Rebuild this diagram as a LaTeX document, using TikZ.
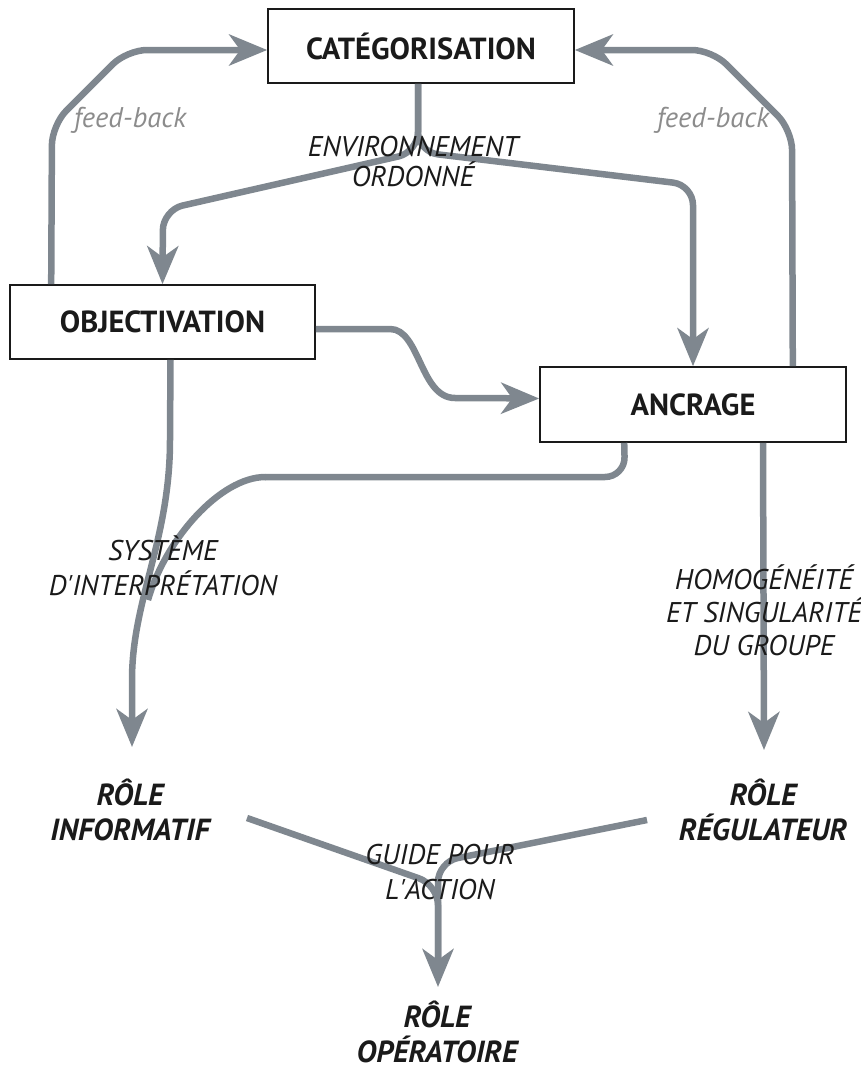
\documentclass[tikz,border=0pt]{standalone}
\usepackage{fontspec}
\setmainfont{PT Sans}
\usetikzlibrary{arrows.meta,calc}
\definecolor{arr}{HTML}{7F878F}
\definecolor{ink}{HTML}{1A1A1A}
\definecolor{fb}{HTML}{8C8C8C}
\newcommand{\apos}{\textquotesingle}
\begin{document}
\begin{tikzpicture}[x=1pt,y=-1pt,
 box/.style={draw=ink,line width=1.6pt,minimum width=306pt,minimum height=74pt,inner sep=0pt,font=\fontsize{30.5}{34}\selectfont\bfseries,text=ink},
 role/.style={align=center,font=\fontsize{30.5}{35}\selectfont\bfseries\itshape,text=ink,inner sep=0pt},
 lab/.style={align=center,font=\fontsize{28.5}{35}\selectfont\itshape,text=ink,inner sep=0pt},
 fbk/.style={font=\fontsize{28.5}{30}\selectfont\itshape,text=fb,inner sep=0pt},
 conn/.style={draw=arr,line width=6.5pt,rounded corners=20pt},
 arrowc/.style={conn,-{Stealth[length=38pt,width=31pt,inset=11pt]}},
]
\useasboundingbox (0,0) rectangle (861,1068);
% boxes
\node[box] (cat) at (421,46) {CATÉGORISATION};
\node[box,minimum width=305pt] (obj) at (162.5,322) {OBJECTIVATION};
\node[box,minimum height=75pt] (anc) at (693,404.5) {ANCRAGE};
% roles
\node[role] (inf) at (130,810) {RÔLE\\INFORMATIF};
\node[role] (reg) at (763,810) {RÔLE\\RÉGULATEUR};
\node[role] (ope) at (437,1032) {RÔLE\\OPÉRATOIRE};
% coordinates
\coordinate (tinf) at (132,747);
\coordinate (treg) at (764,750);
\coordinate (tope) at (438,987);
\coordinate (ginf) at (247,818);
\coordinate (greg) at (647,820);
\coordinate (merge) at (148,600);
% connectors
\draw[arrowc] ($(obj.north west)+(42,0)$) -- (52,125) -- (127,50) -- ($(cat.west)+(0,4)$);
\draw[arrowc] ($(anc.north east)+(-54,0)$) -- (792,130) -- (712,50) -- ($(cat.east)+(0,4)$);
\draw[arrowc] ($(cat.south)+(-3,0)$) -- (418,152) -- (163,210) -- (obj.north);
\draw[arrowc] ($(cat.south)+(-3,0)$) -- (418,152) -- (693,185) -- (anc.north);
\draw[arrowc] ($(obj.east)+(0,7)$) -- (370,329) .. controls (420,329) and (420,398) .. (475,398) -- ($(anc.west)+(0,-6)$);
\draw[arrowc,rounded corners=0pt] ($(obj.south)+(8,0)$) -- (170,440) .. controls (170,540) and (132,600) .. (132,680) -- (tinf);
\draw[conn] ($(anc.south west)+(85,0)$) -- (625,477) -- (265,477);
\draw[conn,rounded corners=0pt] (265.5,477) .. controls (220,477) and (165,540) .. (merge);
\draw[arrowc] ($(anc.south)+(70,0)$) -- (treg);
\draw[conn] (ginf) -- (438,885) -- (438,960);
\draw[arrowc] (greg) -- (438,862) -- (tope);
% labels
\node[fbk] (fbl) at (130,120) {feed-back};
\node[fbk] (fbr) at (713,120) {feed-back};
\node[lab,font=\fontsize{28.5}{30}\selectfont\itshape] (env) at (413,162) {ENVIRONNEMENT\\ORDONNÉ};
\node[lab] (sys) at (163,566) {SYSTÈME\\D\apos INTERPRÉTATION};
\node[lab,font=\fontsize{28.5}{33}\selectfont\itshape] (hom) at (764,610) {HOMOGÉNÉITÉ\\ET SINGULARITÉ\\DU GROUPE};
\node[lab] (guide) at (440,872) {GUIDE POUR\\L\apos ACTION};
\end{tikzpicture}
\end{document}
